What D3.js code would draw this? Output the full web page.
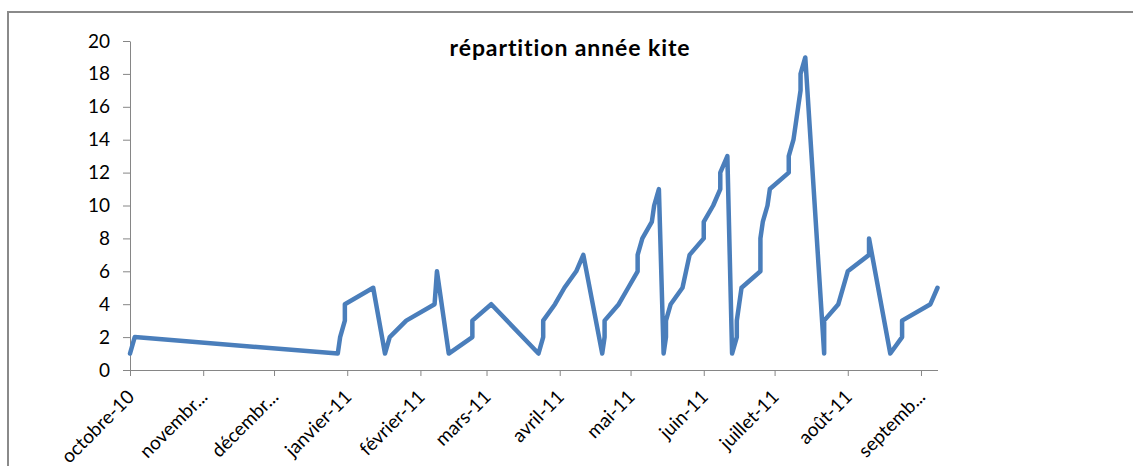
<!DOCTYPE html>
<html lang="fr">
<head>
<meta charset="UTF-8">
<title>répartition année kite</title>
<style>
  html, body { margin: 0; padding: 0; background: #fff; }
  svg { display: block; }
  .axis path, .axis line { stroke: #868686; }
  .axis text { font-family: Lato, "Open Sans", sans-serif; fill: #000; }
</style>
</head>
<body>
<div id="chart"></div>
<script src="https://cdn.jsdelivr.net/npm/d3@7"></script>
<script>
// sessions de kite : date + compteur cumulé
const dates = [
  "2010-10-01", "2010-10-03", "2010-12-28", "2010-12-29", "2010-12-31", "2010-12-31",
  "2011-01-12", "2011-01-17", "2011-01-19", "2011-01-26", "2011-02-07", "2011-02-08",
  "2011-02-13", "2011-02-23", "2011-02-23", "2011-03-03", "2011-03-23", "2011-03-25",
  "2011-03-25", "2011-03-30", "2011-04-03", "2011-04-08", "2011-04-11", "2011-04-19",
  "2011-04-20", "2011-04-20", "2011-04-26", "2011-04-30", "2011-05-04", "2011-05-04",
  "2011-05-06", "2011-05-10", "2011-05-11", "2011-05-13", "2011-05-15", "2011-05-16",
  "2011-05-16", "2011-05-18", "2011-05-23", "2011-05-26", "2011-06-01", "2011-06-01",
  "2011-06-05", "2011-06-08", "2011-06-08", "2011-06-11", "2011-06-13", "2011-06-15",
  "2011-06-15", "2011-06-16", "2011-06-17", "2011-06-25", "2011-06-25", "2011-06-26",
  "2011-06-28", "2011-06-29", "2011-07-07", "2011-07-07", "2011-07-09", "2011-07-10",
  "2011-07-11", "2011-07-12", "2011-07-12", "2011-07-14", "2011-07-22", "2011-07-22",
  "2011-07-28", "2011-08-01", "2011-08-10", "2011-08-10", "2011-08-19", "2011-08-24",
  "2011-08-24", "2011-09-05", "2011-09-08"
];
const values = [
  1, 2, 1, 2, 3, 4,
  5, 1, 2, 3, 4, 6,
  1, 2, 3, 4, 1, 2,
  3, 4, 5, 6, 7, 1,
  2, 3, 4, 5, 6, 7,
  8, 9, 10, 11, 1, 2,
  3, 4, 5, 7, 8, 9,
  10, 11, 12, 13, 1, 2,
  3, 4, 5, 6, 8, 9,
  10, 11, 12, 13, 14, 15,
  16, 17, 18, 19, 1, 3,
  4, 6, 7, 8, 1, 2,
  3, 4, 5
];
const monthLabels = [
  "octobre-10", "novembr...", "décembr...", "janvier-11", "février-11", "mars-11",
  "avril-11", "mai-11", "juin-11", "juillet-11", "août-11", "septemb..."
];
const yTicks = [0, 2, 4, 6, 8, 10, 12, 14, 16, 18, 20];
const title = "répartition année kite";

const W = 1133, H = 466;
const parse = d3.utcParse("%Y-%m-%d");
const data = dates.map((d, i) => ({ date: parse(d), value: values[i] }));

const svg = d3.select("#chart").append("svg")
  .attr("width", W)
  .attr("height", H);

// cadre du graphique
svg.append("rect")
  .attr("x", 8).attr("y", 12)
  .attr("width", W + 20).attr("height", H + 20)
  .attr("fill", "none")
  .attr("stroke", "#8a8a8a")
  .attr("stroke-width", 2);

const x = d3.scaleUtc()
  .domain([parse("2010-10-01"), d3.max(data, d => d.date)])
  .range([130, 937.5]);

const y = d3.scaleLinear()
  .domain([0, 20])
  .range([370, 41]);

// axe Y
const yAxis = svg.append("g")
  .attr("class", "axis")
  .attr("transform", "translate(130,0)")
  .call(d3.axisLeft(y).tickValues(yTicks).tickSize(7).tickPadding(13).tickSizeOuter(0));
yAxis.selectAll("text").style("font-size", "19px");

// axe X : un repère par mois
const months = d3.utcMonth.range(parse("2010-10-01"), parse("2011-09-02"));
const xAxis = svg.append("g")
  .attr("class", "axis")
  .attr("transform", "translate(0,370)")
  .call(d3.axisBottom(x).tickValues(months).tickSize(6).tickSizeOuter(0)
    .tickFormat((d, i) => monthLabels[i]));
xAxis.selectAll("text")
  .style("font-size", "19px")
  .attr("text-anchor", "end")
  .attr("dy", "0.35em")
  .attr("transform", "translate(-6,17) rotate(-45)");

// courbe
const line = d3.line()
  .x(d => x(d.date))
  .y(d => y(d.value));

svg.append("path")
  .datum(data)
  .attr("d", line)
  .attr("fill", "none")
  .attr("stroke", "#4a7ebb")
  .attr("stroke-width", 4.5)
  .attr("stroke-linejoin", "round")
  .attr("stroke-linecap", "round");

svg.append("text")
  .attr("x", 570)
  .attr("y", 56)
  .attr("text-anchor", "middle")
  .style("font-family", "Lato, 'Open Sans', sans-serif")
  .style("font-weight", "bold")
  .style("font-size", "23px")
  .style("letter-spacing", "0.9px")
  .text(title);
</script>
</body>
</html>
